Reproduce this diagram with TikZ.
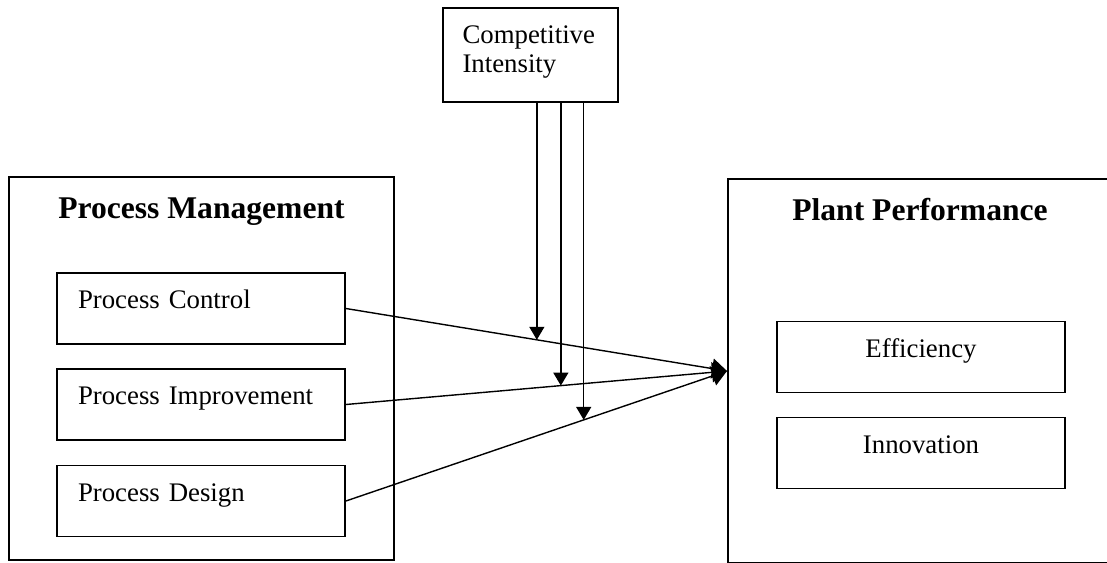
\documentclass[tikz,border=0pt]{standalone}
\usepackage{fontspec}
\setmainfont{Liberation Serif}
\usetikzlibrary{arrows.meta,positioning}

\begin{document}
\begin{tikzpicture}[x=0.5pt,y=-0.5pt]
  \useasboundingbox (0,0) rectangle (1107,562);
  \clip (0,0) rectangle (1107,562);

  \tikzstyle{obox} = [draw, line width=1pt, rectangle, inner sep=0pt]
  \tikzstyle{ibox} = [draw, line width=0.9pt, rectangle, minimum width=144pt, minimum height=35.5pt, font=\fontsize{13.4}{14.5}\selectfont, text height=9.5pt, text depth=9.5pt]
  \tikzstyle{ttl} = [font=\fontsize{15.8}{18}\selectfont\bfseries, inner sep=0pt]
  \tikzstyle{link} = [line width=0.7pt, -{Triangle[length=7.5pt,width=10pt]}]
  \tikzstyle{moder} = [line width=0.7pt, -{Triangle[length=6.5pt,width=7.5pt]}]

  % outer boxes
  \node[obox, minimum width=192.5pt, minimum height=191.5pt] (pm) at (201.5,368.5) {};
  \node[obox, minimum width=196pt, minimum height=192pt] (pp) at (924,371) {};
  \node[ttl, anchor=base] (pmt) at (201.5,218) {Process Management};
  \node[ttl, anchor=base] (ppt) at (920,220) {Plant Performance};

  % process management dimensions
  \node[ibox, text width=123pt, inner xsep=10.5pt, align=left] (pc) at (201,308.5) {Process Control};
  \node[ibox, text width=123pt, inner xsep=10.5pt, align=left] (pi) at (201,404.5) {Process Improvement};
  \node[ibox, text width=123pt, inner xsep=10.5pt, align=left] (pd) at (201,501) {Process Design};

  % performance dimensions
  \node[ibox, align=center] (eff) at (921,357) {Efficiency};
  \node[ibox, align=center] (inn) at (921,453) {Innovation};

  % moderator
  \node[obox, minimum width=87.5pt, minimum height=47pt, text width=68pt, inner xsep=9.5pt, align=left,
        font=\fontsize{13.4}{14.5}\selectfont, text height=10pt, text depth=22pt] (ci) at (530.5,55) {Competitive\\Intensity};

  % effects
  \foreach \s in {pc,pi,pd}
    \draw[link] (\s.east) -- (pp.west);

  % moderating arrows
  \path (pc.east) -- (pp.west) coordinate[pos=0.501] (m1);
  \path (pi.east) -- (pp.west) coordinate[pos=0.564] (m2);
  \path (pd.east) -- (pp.west) coordinate[pos=0.624] (m3);
  \foreach \m in {m1,m2,m3}
    \draw[moder] (ci.south -| \m) -- (\m);

\end{tikzpicture}
\end{document}
